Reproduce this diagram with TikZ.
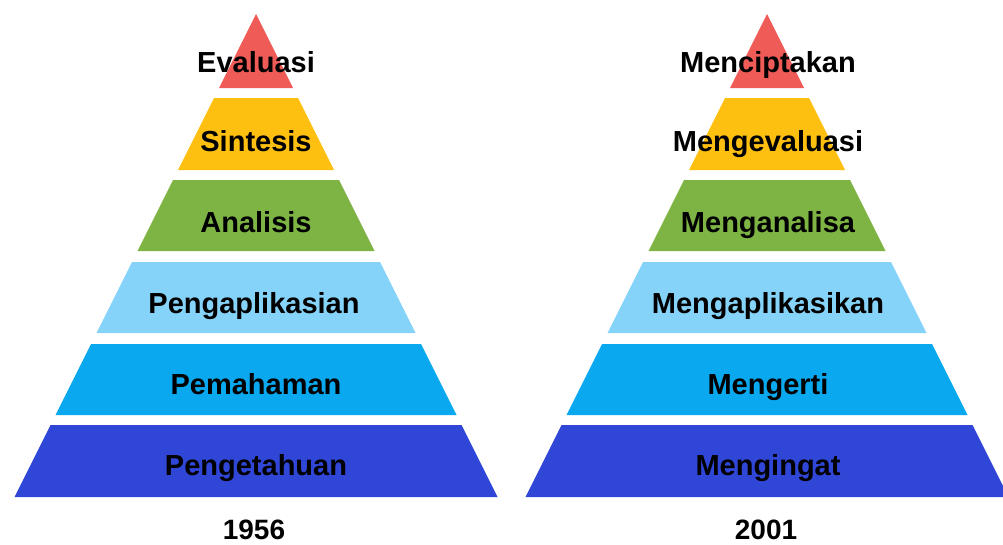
\documentclass[tikz,border=0pt]{standalone}
\usepackage{fontspec}
\setmainfont{Liberation Sans}
\definecolor{cred}{HTML}{EF5B57}
\definecolor{cyel}{HTML}{FDC010}
\definecolor{cgrn}{HTML}{7DB444}
\definecolor{clbl}{HTML}{86D3F9}
\definecolor{cmbl}{HTML}{0AA9EF}
\definecolor{cdbl}{HTML}{3046D6}
\begin{document}
\begin{tikzpicture}[x=1pt,y=-1pt,
  lbl/.style={anchor=base,font=\fontsize{29}{29}\selectfont\bfseries,text=black,inner sep=0pt},
  yr/.style={anchor=base,font=\fontsize{28}{28}\selectfont\bfseries,text=black,inner sep=0pt}]
\useasboundingbox (0,0) rectangle (1003,544);
\foreach \cx in {256,767}{
  \fill[cred] (\cx,14) -- (\cx+37,88) -- (\cx-37,88) -- cycle;
  \foreach \t/\b/\c in {98/170/cyel,180/251/cgrn,262/333/clbl,344/415/cmbl,425/497/cdbl}{
    \fill[\c] ({\cx-0.5*(\t-14)},\t) -- ({\cx+0.5*(\t-14)},\t) -- ({\cx+0.5*(\b-14)},\b) -- ({\cx-0.5*(\b-14)},\b) -- cycle;
  }
}
\node[lbl] (l1) at (256,72) {Evaluasi};
\node[lbl] (l2) at (256,151) {Sintesis};
\node[lbl] (l3) at (256,232) {Analisis};
\node[lbl] (l4) at (254,313) {Pengaplikasian};
\node[lbl] (l5) at (256,394) {Pemahaman};
\node[lbl] (l6) at (256,475) {Pengetahuan};
\node[yr] (y1) at (254,539) {1956};
\node[lbl] (r1) at (768,72) {Menciptakan};
\node[lbl] (r2) at (768,151) {Mengevaluasi};
\node[lbl] (r3) at (768,232) {Menganalisa};
\node[lbl] (r4) at (768,313) {Mengaplikasikan};
\node[lbl] (r5) at (768,394) {Mengerti};
\node[lbl] (r6) at (768,475) {Mengingat};
\node[yr] (y2) at (766,539) {2001};
\end{tikzpicture}
\end{document}
